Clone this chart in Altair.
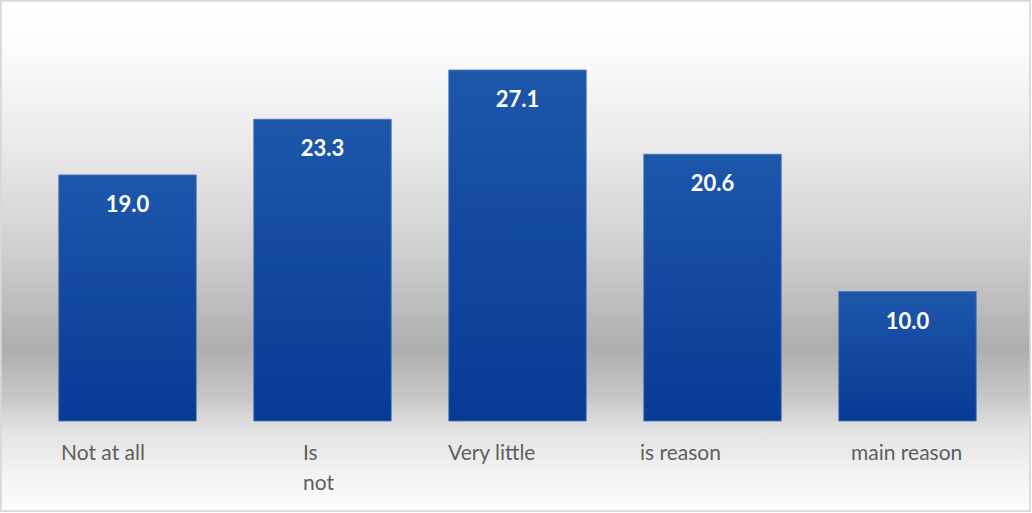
import altair as alt
import pandas as pd

# Survey answers and their shares (%)
categories = ["Not at all", "Is\nnot", "Very little", "is reason", "main reason"]
shares = [19.0, 23.3, 27.1, 20.6, 10.0]

df = pd.DataFrame({"cat": categories, "share": shares})
df["label"] = df["share"].map(lambda v: f"{v:.1f}")

W, H = 975, 388.5
PAD = {"left": 30, "top": 32.5, "right": 27, "bottom": 92}

x_enc = alt.X(
    "cat:N",
    sort=categories,
    axis=None,
    scale=alt.Scale(paddingInner=0.295, paddingOuter=0.1475),
)
y_scale = alt.Scale(domain=[0, 30], nice=False)

# Soft grey backdrop, darkest just above the bar baseline
backdrop = alt.Chart(df).mark_rect(
    color=alt.Gradient(
        gradient="linear",
        x1=0, x2=0, y1=0, y2=1,
        stops=[
            alt.GradientStop(offset=0.0, color="#ffffff"),
            alt.GradientStop(offset=0.10, color="#fbfbfb"),
            alt.GradientStop(offset=0.29, color="#e9e9e9"),
            alt.GradientStop(offset=0.49, color="#cfcfcf"),
            alt.GradientStop(offset=0.68, color="#aeaeae"),
            alt.GradientStop(offset=0.78, color="#c8c8c8"),
            alt.GradientStop(offset=0.84, color="#e2e2e2"),
            alt.GradientStop(offset=0.92, color="#f2f2f2"),
            alt.GradientStop(offset=1.0, color="#fdfdfd"),
        ],
    ),
    stroke="#d8d8d8",
    strokeWidth=1.5,
).encode(
    x=alt.value(-PAD["left"] + 1),
    x2=alt.value(W + PAD["right"] - 2),
    y=alt.value(-PAD["top"] + 1),
    y2=alt.value(H + PAD["bottom"] - 2),
)

bars = alt.Chart(df).mark_bar(
    color=alt.Gradient(
        gradient="linear",
        x1=0, x2=0, y1=0, y2=1,
        stops=[
            alt.GradientStop(offset=0, color="#1d57aa"),
            alt.GradientStop(offset=1, color="#073a95"),
        ],
    ),
    stroke="#4a74bd",
    strokeWidth=0.8,
).encode(
    x=x_enc,
    y=alt.Y("share:Q", scale=y_scale, axis=None),
)

values = alt.Chart(df).mark_text(
    font="Lato",
    fontSize=22,
    fontWeight="bold",
    color="white",
    baseline="middle",
    dy=30,
).encode(
    x=x_enc,
    y=alt.Y("share:Q", scale=y_scale, axis=None),
    text="label:N",
)

# Category names under the bars, left-set near each bar's edge
names = alt.Chart(df).mark_text(
    font="Lato",
    fontSize=21,
    color="#5f5f5f",
    align="left",
    baseline="alphabetic",
    lineBreak="\n",
    lineHeight=30,
    dx=alt.ExprRef(
        "datum.cat == 'Is\\nnot' ? -19.5 : datum.cat == 'main reason' ? -56.5 : "
        "datum.cat == 'Not at all' ? -66.5 : datum.cat == 'Very little' ? -69.5 : -72.5"
    ),
).encode(
    x=x_enc,
    y=alt.value(H + 39),
    text="cat:N",
)

chart = (
    alt.layer(backdrop, bars, values, names)
    .properties(
        width=W,
        height=H,
        padding=PAD,
        autosize=alt.AutoSizeParams(type="none"),
    )
    .configure_view(stroke=None)
)

chart.save("out.html", embed_options={"renderer": "svg", "actions": False})
